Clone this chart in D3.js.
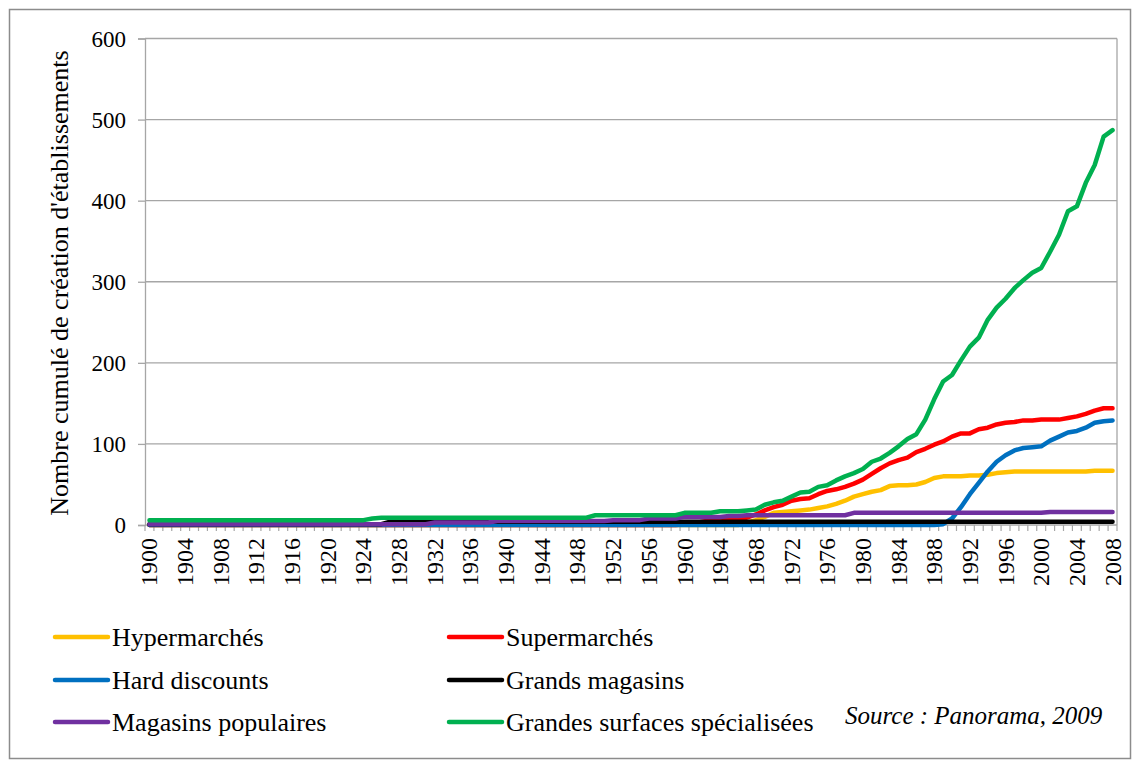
<!DOCTYPE html>
<html>
<head>
<meta charset="utf-8">
<script src="https://cdn.jsdelivr.net/npm/d3@7"></script>
</head>
<body style="margin:0">
<svg id="chart" width="1133" height="760"></svg>
<script>
// ---------- data ----------
const years = d3.range(1900, 2009);
const yTicks = [0, 100, 200, 300, 400, 500, 600];
const seriesNames = ["Hypermarchés", "Supermarchés", "Hard discounts", "Grands magasins", "Magasins populaires", "Grandes surfaces spécialisées"];
const seriesColors = ["#FFC000", "#FF0000", "#0070C0", "#000000", "#7030A0", "#00B050"];

const hypermarches = [
0,0,0,0,0,0,0,0,0,0,
0,0,0,0,0,0,0,0,0,0,
0,0,0,0,0,0,0,0,0,0,
0,0,0,0,0,0,0,0,0,0,
0,0,0,0,0,0,0,0,0,0,
0,0,0,0,0,0,0,0,0,0,
0,0,0,0,0,0,0,3,6,10,
15,16,17,18,19,21,23,26,30,35,
38,41,43,48,49,49,50,53,58,60,
60,60,61,61,62,64,65,66,66,66,
66,66,66,66,66,66,67,67,67];

const supermarches = [
0,0,0,0,0,0,0,0,0,0,
0,0,0,0,0,0,0,0,0,0,
0,0,0,0,0,0,0,0,0,0,
0,0,0,0,0,0,0,0,0,0,
0,0,0,0,0,0,0,0,0,0,
0,0,0,0,0,0,0,0,0,0,
1,2,4,6,6,6,6,9,13,18,
22,25,30,32,33,38,42,44,47,51,
56,63,70,76,80,83,90,94,99,103,
109,113,113,118,120,124,126,127,129,129,
130,130,130,132,134,137,141,144,144];

const hardDiscounts = [
0,0,0,0,0,0,0,0,0,0,
0,0,0,0,0,0,0,0,0,0,
0,0,0,0,0,0,0,0,0,0,
0,0,0,0,0,0,0,0,0,0,
0,0,0,0,0,0,0,0,0,0,
0,0,0,0,0,0,0,0,0,0,
0,0,0,0,0,0,0,0,0,0,
0,0,0,0,0,0,0,0,0,0,
0,0,0,0,0,0,0,0,0,1,
8,22,38,52,66,78,86,92,95,96,
97,104,109,114,116,120,126,128,129];

const grandsMagasins = [
1,1,1,1,1,1,1,1,1,1,
1,1,1,1,1,1,1,1,1,1,
1,1,1,1,1,1,1,4,4,4,
4,4,4,4,4,4,4,4,4,4,
4,4,4,4,4,4,4,4,4,4,
4,4,4,4,4,4,4,4,4,4,
4,4,4,4,4,4,4,4,4,4,
4,4,4,4,4,4,4,4,4,4,
4,4,4,4,4,4,4,4,4,4,
4,4,4,4,4,4,4,4,4,4,
4,4,4,4,4,4,4,4,4];

const magasinsPopulaires = [
1,1,1,1,1,1,1,1,1,1,
1,1,1,1,1,1,1,1,1,1,
1,1,1,1,1,1,1,1,1,1,
1,1,3,3,3,3,3,3,3,5,
5,5,5,5,5,5,5,5,5,5,
5,5,6,6,6,6,8,8,8,8,
10,10,10,10,10,11,11,12,12,12,
12,12,12,12,12,12,12,12,12,15,
15,15,15,15,15,15,15,15,15,15,
15,15,15,15,15,15,15,15,15,15,
15,16,16,16,16,16,16,16,16];

const grandesSurfaces = [
6,6,6,6,6,6,6,6,6,6,
6,6,6,6,6,6,6,6,6,6,
6,6,6,6,6,8,9,9,9,9,
9,9,9,9,9,9,9,9,9,9,
9,9,9,9,9,9,9,9,9,9,
12,12,12,12,12,12,12,12,12,12,
15,15,15,15,17,17,17,18,19,25,
28,30,35,40,41,47,49,55,60,64,
69,78,82,89,97,106,112,130,155,177,
185,203,220,231,253,268,279,292,302,311,
317,337,358,387,393,422,444,479,487];

const seriesValues = [hypermarches, supermarches, hardDiscounts, grandsMagasins, magasinsPopulaires, grandesSurfaces];

// font name assembled at run time
const fontParts = ["Liberation", "Serif"];
const FONT = `"${fontParts.join(" ")}"`;

// ---------- layout ----------
const svg = d3.select("#chart");
const plot = { left: 145, right: 1117, top: 38.5, bottom: 525 };
const gridColor = "#a6a6a6";

svg.append("rect").attr("x", 0).attr("y", 0).attr("width", 1133).attr("height", 760).attr("fill", "#fff");
svg.append("rect").attr("x", 9.5).attr("y", 9.5).attr("width", 1121).attr("height", 749)
  .attr("fill", "none").attr("stroke", "#8c8c8c").attr("stroke-width", 1.5);

const x = d3.scaleBand().domain(years).range([plot.left, plot.right]).paddingInner(0).paddingOuter(0);
const y = d3.scaleLinear().domain([0, 600]).range([plot.bottom, plot.top]);
const bw = x.bandwidth();

// gridlines
svg.append("g").selectAll("line").data(yTicks.filter(d => d > 0)).join("line")
  .attr("x1", plot.left).attr("x2", plot.right)
  .attr("y1", d => y(d)).attr("y2", d => y(d))
  .attr("stroke", gridColor).attr("stroke-width", 1.3);
svg.append("line").attr("x1", plot.right).attr("x2", plot.right)
  .attr("y1", plot.top).attr("y2", plot.bottom)
  .attr("stroke", gridColor).attr("stroke-width", 1.3);

// y axis
const yAxis = svg.append("g").attr("transform", `translate(${plot.left},0)`)
  .call(d3.axisLeft(y).tickValues(yTicks).tickSize(7).tickPadding(12));
yAxis.attr("font-family", null).attr("font-size", null);
yAxis.select(".domain").attr("stroke", gridColor).attr("stroke-width", 1.3);
yAxis.selectAll(".tick line").attr("stroke", gridColor).attr("stroke-width", 1.3);
yAxis.selectAll(".tick text").attr("fill", "#000")
  .style("font-family", FONT).attr("font-size", 23)
  .attr("dy", null).attr("y", 7.5);

// x axis tick marks at category boundaries
const boundaries = years.map(d => x(d)).concat([plot.right]);
svg.append("g").selectAll("line").data(boundaries).join("line")
  .attr("x1", d => d).attr("x2", d => d)
  .attr("y1", plot.bottom).attr("y2", plot.bottom + 6)
  .attr("stroke", gridColor).attr("stroke-width", 1.2);

const xAxis = svg.append("g").attr("transform", `translate(0,${plot.bottom})`)
  .call(d3.axisBottom(x).tickValues(years.filter(d => (d - 1900) % 4 === 0)).tickSize(0).tickPadding(0));
xAxis.attr("font-family", null).attr("font-size", null);
xAxis.select(".domain").remove();
xAxis.selectAll(".tick text")
  .attr("fill", "#000")
  .style("font-family", FONT).attr("font-size", 24)
  .attr("text-anchor", "end")
  .attr("transform", "translate(0,13) rotate(-90)")
  .attr("dy", null).attr("x", 0).attr("y", 8);
svg.append("line").attr("x1", plot.left).attr("x2", plot.right)
  .attr("y1", plot.bottom).attr("y2", plot.bottom)
  .attr("stroke", gridColor).attr("stroke-width", 1.3);

// lines
const line = d3.line().x((d, i) => x(years[i]) + bw / 2).y(d => y(d));
svg.append("g").selectAll("path").data(seriesValues).join("path")
  .attr("d", d => line(d))
  .attr("fill", "none")
  .attr("stroke", (d, i) => seriesColors[i])
  .attr("stroke-width", 4.5)
  .attr("stroke-linejoin", "round")
  .attr("stroke-linecap", "round");

// y title
svg.append("text")
  .attr("transform", "translate(68,283) rotate(-90)")
  .attr("text-anchor", "middle")
  .style("font-family", FONT).attr("font-size", 26)
  .text("Nombre cumulé de création d'établissements");

// legend
const legendCols = [55, 449];
const legendRows = [637, 680, 722];
const leg = svg.append("g").selectAll("g").data(seriesNames).join("g")
  .attr("transform", (d, i) => `translate(${legendCols[i % 2]},${legendRows[Math.floor(i / 2)]})`);
leg.append("line").attr("x1", 0).attr("x2", 53).attr("y1", 0).attr("y2", 0)
  .attr("stroke", (d, i) => seriesColors[i]).attr("stroke-width", 4.5).attr("stroke-linecap", "round");
leg.append("text").attr("x", 57).attr("y", 8.5)
  .style("font-family", FONT).attr("font-size", 26).text(d => d);

// source
svg.append("text").attr("x", 845).attr("y", 724)
  .style("font-family", FONT).attr("font-size", 25).attr("font-style", "italic")
  .text("Source :  Panorama, 2009");
</script>
</body>
</html>
